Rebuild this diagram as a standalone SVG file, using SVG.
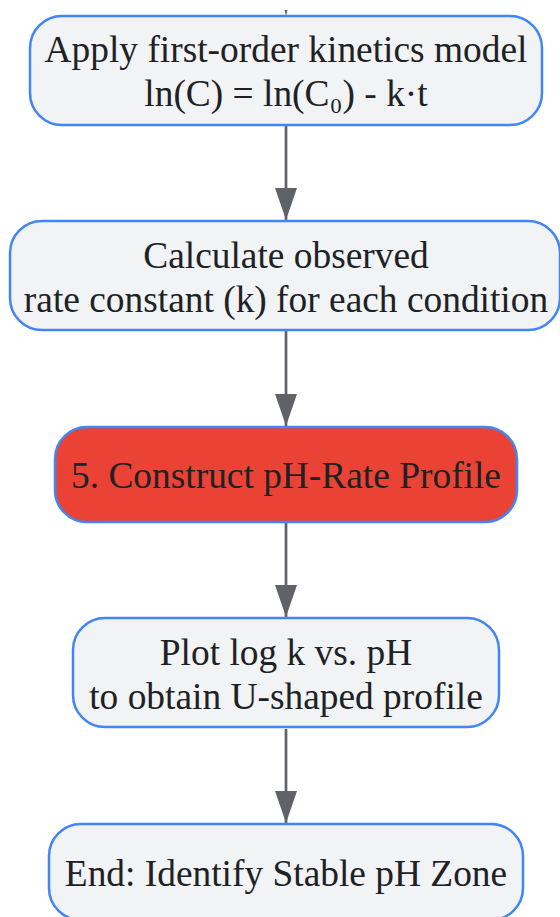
<svg xmlns="http://www.w3.org/2000/svg" width="560" height="917" viewBox="0 0 560 917">
<style>
.node rect{fill:#f1f3f4;stroke:#4285f4;stroke-width:2.5}
.node.hl rect{fill:#ea4335}
.node text{font-family:"Liberation Serif","Times New Roman",serif;font-size:37.4px;fill:#202124;text-anchor:middle}
.edge{stroke:#5f6368;stroke-width:2.7;fill:none}
</style>
<defs>
<marker id="arr" markerUnits="userSpaceOnUse" markerWidth="32" markerHeight="22" refX="32" refY="11" orient="auto" viewBox="0 0 32 22">
<path d="M0,0 L32,11 L0,22 z" fill="#5f6368"/>
</marker>
</defs>
<rect width="560" height="917" fill="#ffffff"/>
<g id="connectors">
<path d="M284.5,10 L287.5,10 L286,16 z" fill="#5f6368"/>
<path class="edge" d="M286,126 L286,220" marker-end="url(#arr)"/>
<path class="edge" d="M286,331 L286,426" marker-end="url(#arr)"/>
<path class="edge" d="M286,523 L286,617" marker-end="url(#arr)"/>
<path class="edge" d="M286,729 L286,823" marker-end="url(#arr)"/>
</g>
<g id="n1" class="node">
<rect x="30" y="16" width="512" height="109" rx="32"/>
<text x="286" y="62">Apply first-order kinetics model</text>
<text x="286" y="106">ln(C) = ln(C₀) - k·t</text>
</g>
<g id="n2" class="node">
<rect x="10" y="221" width="550" height="109" rx="32"/>
<text x="286" y="268">Calculate observed</text>
<text x="286" y="312">rate constant (k) for each condition</text>
</g>
<g id="n3" class="node hl">
<rect x="55" y="427" width="462" height="95" rx="32"/>
<text x="286" y="488">5. Construct pH-Rate Profile</text>
</g>
<g id="n4" class="node">
<rect x="73" y="618" width="426" height="109" rx="32"/>
<text x="286" y="665">Plot log k vs. pH</text>
<text x="286" y="709">to obtain U-shaped profile</text>
</g>
<g id="n5" class="node">
<rect x="49" y="824" width="474" height="96" rx="32"/>
<text x="286" y="886">End: Identify Stable pH Zone</text>
</g>
</svg>
